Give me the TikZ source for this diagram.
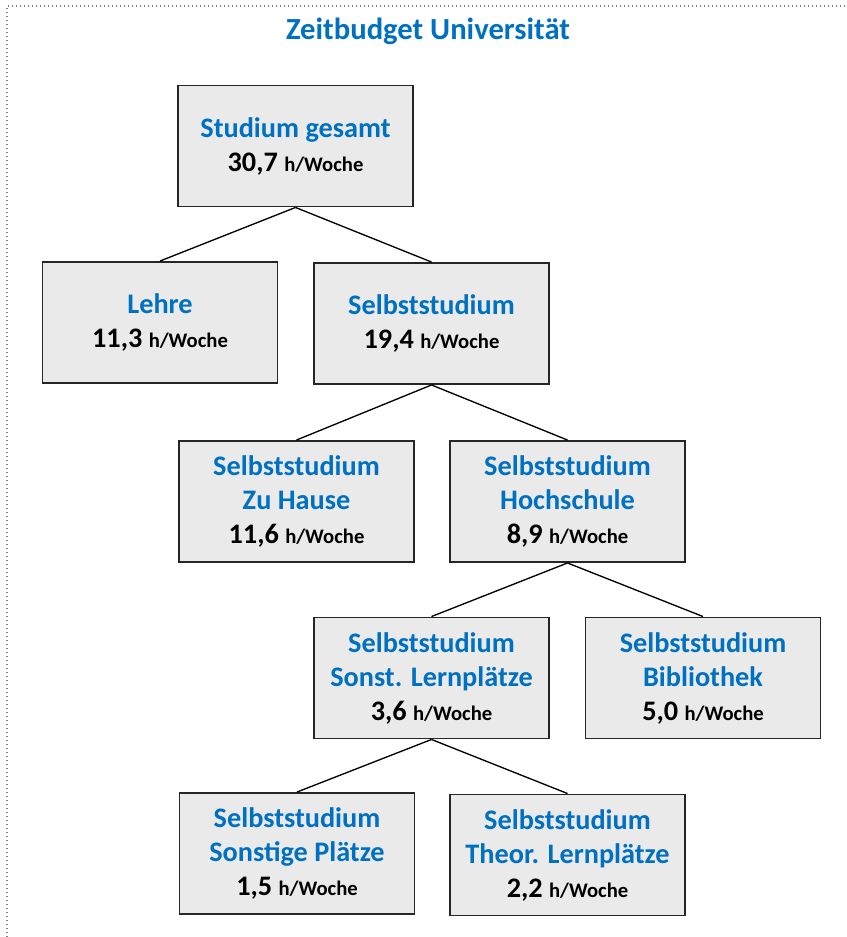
\documentclass[tikz,border=0pt]{standalone}
\usepackage{fontspec}
\setmainfont{Carlito}
\definecolor{ttlblue}{HTML}{0070C0}
\definecolor{boxfill}{HTML}{EAEAEA}
\definecolor{boxline}{HTML}{262626}
\newcommand\hwk[1]{\textcolor{black}{#1 {\fontsize{15.5}{25.5}\selectfont h/Woche}}}
\begin{document}
\begin{tikzpicture}[x=0.75pt,y=-0.75pt,
  box/.style={draw=boxline, fill=boxfill, line width=1.2pt, minimum width=176pt, minimum height=91pt,
    inner sep=0pt, align=center, text=ttlblue, font=\bfseries\fontsize{21.2}{25.5}\selectfont},
  conn/.style={draw=black, line width=1pt}]
\useasboundingbox (0,0) rectangle (846,937);
\draw[gray, dotted, line width=1pt] (7,937) -- (7,6) -- (846,6);
\node[text=ttlblue, font=\bfseries\fontsize{23}{27}\selectfont] (title) at (428,31) {Zeitbudget Universität};
\node[box] (root) at (295.5,146) {Studium gesamt\\\hwk{30,7}};
\node[box] (lehre) at (160,322.5) {Lehre\\\hwk{11,3}};
\node[box] (selb) at (431.5,323.5) {Selbststudium\\\hwk{19,4}};
\node[box] (hause) at (296.5,501.5) {Selbststudium\\Zu Hause\\\hwk{11,6}};
\node[box] (hoch) at (567.5,501.5) {Selbststudium\\Hochschule\\\hwk{8,9}};
\node[box] (sonst) at (431.5,678) {Selbststudium\\Sonst. Lernplätze\\\hwk{3,6}};
\node[box] (bib) at (703,678) {Selbststudium\\Bibliothek\\\hwk{5,0}};
\node[box] (sonstp) at (297,853.5) {Selbststudium\\Sonstige Plätze\\\hwk{1,5}};
\node[box] (theor) at (567.5,855) {Selbststudium\\Theor. Lernplätze\\\hwk{2,2}};
\draw[conn] (root.south) -- (lehre.north);
\draw[conn] (root.south) -- (selb.north);
\draw[conn] (selb.south) -- (hause.north);
\draw[conn] (selb.south) -- (hoch.north);
\draw[conn] (hoch.south) -- (sonst.north);
\draw[conn] (hoch.south) -- (bib.north);
\draw[conn] (sonst.south) -- (sonstp.north);
\draw[conn] (sonst.south) -- (theor.north);
\end{tikzpicture}
\end{document}
